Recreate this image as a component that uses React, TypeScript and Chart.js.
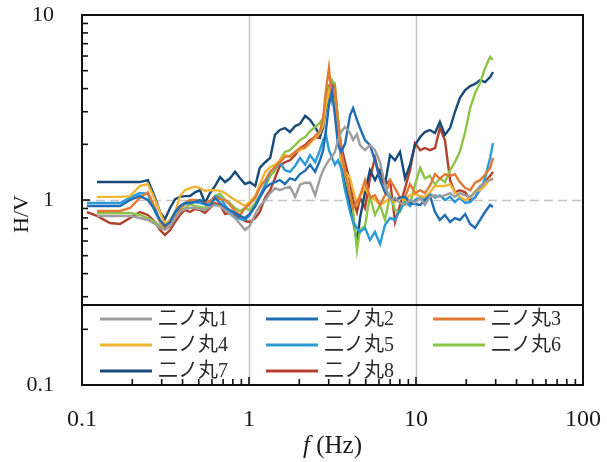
import React, { useEffect, useRef } from "react";
import { Chart, registerables } from "chart.js";
Chart.register(...registerables);

// Frequency (Hz)
const freq = [
  0.107, 0.123, 0.147, 0.169, 0.194, 0.222, 0.248, 0.274, 0.293, 0.314,
  0.337, 0.361, 0.386, 0.414, 0.443, 0.475, 0.509, 0.545, 0.584, 0.626,
  0.671, 0.719, 0.770, 0.825, 0.884, 0.947, 1.01, 1.09, 1.16, 1.25,
  1.34, 1.43, 1.53, 1.64, 1.76, 1.89, 2.02, 2.17, 2.32, 2.49,
  2.66, 2.78, 2.89, 3.01, 3.14, 3.27, 3.41, 3.56, 3.76, 4.03,
  4.20, 4.43, 4.62, 4.95, 5.30, 5.68, 6.09, 6.52, 6.99, 7.49,
  8.02, 8.60, 9.21, 9.86, 10.6, 11.3, 12.1, 13.0, 13.9, 14.9,
  16.0, 17.1, 18.3, 19.7, 21.1, 22.6, 24.2, 25.9, 27.8, 28.9,
];

// H/V ratios
const s1 = [
  null, 0.820, 0.820, 0.820, 0.820, 0.799, 0.780, 0.742, 0.706, 0.689,
  0.724, 0.799, 0.861, 0.894, 0.905, 0.905, 0.894, 0.883, 0.917, 0.940,
  0.928, 0.883, 0.840, 0.799, 0.742, 0.689, 0.724, 0.840, 0.928, 1.00,
  1.09, 1.16, 1.13, 1.16, 1.18, 1.04, 1.21, 1.24, 1.24, 1.06,
  1.31, 1.45, 1.55, 1.64, 1.71, 1.82, 2.11, 2.33, 2.48, 2.30,
  2.11, 2.27, 1.98, 1.86, 1.98, 1.86, 1.60, 1.21, 1.00, 1.03,
  0.963, 0.940, 1.00, 0.963, 1.03, 0.940, 1.04, 1.06, 1.04, 1.06,
  1.09, 1.04, 1.09, 1.06, 1.04, 1.10, 1.19, 1.25, 1.28, 1.31,
];
const s2 = [
  0.928, 0.928, 0.928, 0.928, 1.00, 1.05, 1.00, 0.883, 0.780, 0.724,
  0.761, 0.861, 0.928, 0.963, 0.963, 0.975, 1.00, 0.951, 0.928, 1.03,
  0.963, 0.905, 0.883, 0.851, 0.820, 0.799, 0.840, 0.928, 1.03, 1.16,
  1.22, 1.25, 1.28, 1.22, 1.31, 1.28, 1.38, 1.44, 1.55, 1.42,
  1.64, 1.86, 2.39, 3.26, 3.84, 2.88, 1.98, 1.82, 2.01, 2.88,
  3.14, 2.71, 2.45, 2.11, 1.98, 1.64, 1.28, 1.10, 1.03, 1.00,
  1.03, 1.04, 0.963, 0.951, 0.940, 1.00, 1.06, 0.861, 0.780, 0.830,
  0.761, 0.799, 0.780, 0.840, 0.742, 0.706, 0.780, 0.861, 0.940, 0.917,
];
const s3 = [
  null, 0.872, 0.872, 0.872, 0.905, 1.03, 1.10, 0.905, 0.761, 0.706,
  0.742, 0.799, 0.883, 0.963, 1.00, 1.00, 0.988, 0.963, 0.988, 1.04,
  1.01, 1.00, 0.940, 0.872, 0.830, 0.905, 0.951, 1.03, 1.16, 1.28,
  1.42, 1.51, 1.60, 1.71, 1.73, 1.82, 1.91, 1.93, 2.06, 2.22,
  2.36, 2.78, 3.93, 5.17, 3.47, 4.03, 2.64, 1.86, 1.42, 1.06,
  0.905, 0.975, 1.05, 1.28, 1.03, 1.06, 0.940, 1.06, 1.28, 1.16,
  1.03, 1.04, 1.22, 1.09, 1.13, 1.09, 1.19, 1.38, 1.30, 1.38,
  1.35, 1.38, 1.25, 1.16, 1.13, 1.24, 1.28, 1.37, 1.49, 1.69,
];
const s4 = [
  null, 1.04, 1.04, 1.04, 1.05, 1.19, 1.22, 1.00, 0.861, 0.742,
  0.780, 0.861, 1.05, 1.13, 1.16, 1.18, 1.16, 1.12, 1.13, 1.13,
  1.12, 1.09, 1.04, 1.00, 0.963, 0.928, 0.975, 1.05, 1.21, 1.42,
  1.51, 1.55, 1.64, 1.75, 1.71, 1.82, 1.86, 1.91, 2.03, 2.16,
  2.30, 2.54, 3.26, 3.84, 3.69, 3.47, 2.39, 1.64, 1.42, 1.31,
  1.13, 0.951, 1.05, 1.16, 1.05, 1.00, 0.940, 0.975, 1.03, 0.975,
  1.03, 1.00, 1.06, 1.08, 1.05, 1.04, 1.10, 1.19, 1.19, 1.19,
  1.22, 1.10, 1.04, 1.00, 1.03, 1.12, 1.13, 1.19, 1.31, 1.28,
];
const s5 = [
  0.963, 0.963, 0.963, 0.963, 1.03, 1.09, 1.08, 0.861, 0.761, 0.724,
  0.780, 0.840, 0.905, 0.951, 0.975, 0.975, 0.963, 0.951, 0.940, 1.05,
  1.03, 0.940, 0.861, 0.809, 0.789, 0.780, 0.830, 0.928, 1.05, 1.21,
  1.42, 1.49, 1.60, 1.45, 1.42, 1.53, 1.69, 1.55, 1.75, 1.60,
  1.86, 2.11, 2.25, 1.86, 1.69, 1.55, 1.64, 1.49, 1.13, 0.861,
  0.761, 0.706, 0.672, 0.706, 0.608, 0.672, 0.578, 0.733, 0.799, 0.780,
  0.883, 0.975, 0.928, 1.00, 1.03, 1.00, 1.08, 1.03, 1.06, 1.00,
  1.04, 0.975, 1.03, 0.963, 0.975, 1.04, 1.13, 1.31, 1.69, 2.03,
];
const s6 = [
  null, 0.850, 0.850, 0.850, 0.850, 0.830, 0.799, 0.761, 0.724, 0.706,
  0.742, 0.820, 0.872, 0.905, 0.951, 0.928, 0.917, 0.905, 0.975, 1.05,
  1.08, 1.00, 0.963, 0.905, 0.872, 0.905, 0.883, 0.963, 1.06, 1.18,
  1.35, 1.44, 1.64, 1.82, 1.86, 1.98, 2.11, 2.19, 2.36, 2.48,
  2.61, 2.78, 3.26, 4.03, 4.45, 4.18, 2.71, 1.86, 1.37, 1.06,
  0.883, 0.536, 0.689, 0.724, 1.05, 0.830, 0.940, 0.780, 1.06, 0.883,
  0.861, 1.03, 0.940, 1.21, 1.49, 1.31, 1.35, 1.21, 1.31, 1.25,
  1.45, 1.60, 1.82, 2.33, 3.14, 3.79, 4.29, 5.16, 5.93, 5.71,
];
const s7 = [
  null, 1.25, 1.25, 1.25, 1.25, 1.25, 1.28, 1.03, 0.861, 0.789,
  0.905, 1.01, 1.04, 1.05, 1.05, 1.10, 1.13, 0.963, 1.09, 1.19,
  1.33, 1.25, 1.31, 1.42, 1.31, 1.22, 1.25, 1.19, 1.49, 1.60,
  1.69, 2.25, 2.39, 2.45, 2.33, 2.51, 2.58, 2.85, 2.71, 2.48,
  2.22, 2.45, 3.14, 3.74, 3.93, 3.47, 2.39, 1.64, 1.21, 0.940,
  0.780, 0.586, 0.799, 1.10, 1.45, 1.28, 1.45, 1.21, 1.75, 1.64,
  1.82, 1.31, 1.55, 1.98, 2.19, 2.33, 2.39, 2.30, 2.64, 2.25,
  2.45, 2.99, 3.56, 3.93, 4.13, 4.24, 4.45, 4.34, 4.62, 4.92,
];
const s8 = [
  0.861, 0.820, 0.751, 0.742, 0.799, 0.861, 0.830, 0.761, 0.689, 0.647,
  0.689, 0.761, 0.830, 0.883, 0.861, 0.894, 0.883, 0.851, 0.905, 0.963,
  0.940, 0.840, 0.851, 0.830, 0.799, 0.770, 0.761, 0.799, 0.861, 1.03,
  1.13, 1.31, 1.53, 1.60, 1.64, 1.75, 1.91, 1.98, 2.11, 2.19,
  2.16, 2.71, 3.47, 4.13, 4.34, 3.93, 2.71, 1.98, 1.60, 1.25,
  1.00, 0.861, 1.03, 0.905, 1.31, 1.69, 1.31, 1.21, 1.28, 0.761,
  0.940, 1.16, 1.45, 2.03, 1.86, 1.91, 1.86, 1.91, 2.45, 2.11,
  1.28, 1.10, 1.13, 1.10, 1.00, 1.03, 1.16, 1.25, 1.35, 1.42,
];

const seriesLabels = ["二ノ丸1", "二ノ丸2", "二ノ丸3", "二ノ丸4", "二ノ丸5", "二ノ丸6", "二ノ丸7", "二ノ丸8"];
const seriesColors = ["#9d9d9d", "#1f6db4", "#e07a35", "#efb533", "#2b9ad7", "#8cc44a", "#174a78", "#b3402b"];
const xTickValues = [0.1, 1, 10, 100];
const yTickValues = [0.1, 1, 10];
const xTitleItalic = "f";
const xTitleRest = " (Hz)";
const yTitle = "H/V";

const SERIF = '"Liberation Serif", "Noto Sans CJK JP", serif';
const LEGEND_FONT = '"Liberation Serif", "Noto Sans CJK JP", serif';

const decorPlugin = {
  id: "decor",
  beforeDatasetsDraw(chart: any) {
    const { ctx, chartArea: a, scales } = chart;
    const x = scales.x;
    const y = scales.y;
    ctx.save();
    ctx.strokeStyle = "#c4c4c4";
    ctx.lineWidth = 1.5;
    for (const v of [1, 10]) {
      const px = Math.round(x.getPixelForValue(v)) + 0.5;
      ctx.beginPath();
      ctx.moveTo(px, a.top);
      ctx.lineTo(px, a.bottom);
      ctx.stroke();
    }
    ctx.setLineDash([9, 5]);
    const py = Math.round(y.getPixelForValue(1)) + 0.5;
    ctx.beginPath();
    ctx.moveTo(a.left, py);
    ctx.lineTo(a.right, py);
    ctx.stroke();
    ctx.restore();
  },
  afterDatasetsDraw(chart: any) {
    const { ctx, chartArea: a, scales } = chart;
    const x = scales.x;
    const y = scales.y;
    ctx.save();
    ctx.strokeStyle = "#111";
    ctx.lineWidth = 1.6;
    // inward ticks, left axis
    for (const d of [0.1, 1]) {
      for (let m = 1; m <= 9; m++) {
        const v = m * d;
        const py = y.getPixelForValue(v);
        const len = m === 1 ? 8 : 6;
        ctx.beginPath();
        ctx.moveTo(a.left, py);
        ctx.lineTo(a.left + len, py);
        ctx.stroke();
      }
    }
    // inward ticks, bottom axis
    for (const d of [0.1, 1, 10]) {
      for (let m = 1; m <= 9; m++) {
        const v = m * d;
        const px = x.getPixelForValue(v);
        const len = m === 1 ? 8 : 6;
        ctx.beginPath();
        ctx.moveTo(px, a.bottom);
        ctx.lineTo(px, a.bottom - len);
        ctx.stroke();
      }
    }
    // legend box
    const lgTop = a.bottom - 80;
    ctx.lineWidth = 2;
    ctx.beginPath();
    ctx.moveTo(a.left, lgTop);
    ctx.lineTo(a.right, lgTop);
    ctx.stroke();
    const datasets = chart.data.datasets;
    const colX = [a.left + 18, a.left + 184, a.left + 351];
    const rowY = [lgTop + 14, lgTop + 40, lgTop + 66];
    ctx.font = `20px ${LEGEND_FONT}`;
    ctx.textBaseline = "middle";
    ctx.textAlign = "left";
    datasets.forEach((ds: any, i: number) => {
      const cx = colX[i % 3];
      const cy = rowY[Math.floor(i / 3)];
      ctx.strokeStyle = ds.borderColor;
      ctx.lineWidth = 3;
      ctx.beginPath();
      ctx.moveTo(cx, cy);
      ctx.lineTo(cx + 52, cy);
      ctx.stroke();
      ctx.fillStyle = "#2a2a2a";
      ctx.fillText(ds.label, cx + 58, cy + 1);
    });
    // plot border
    ctx.strokeStyle = "#111";
    ctx.lineWidth = 2;
    ctx.strokeRect(a.left, a.top, a.right - a.left, a.bottom - a.top);
    // titles
    ctx.fillStyle = "#1a1a1a";
    ctx.textBaseline = "middle";
    ctx.font = `italic 25px ${SERIF}`;
    const wI = ctx.measureText(xTitleItalic).width;
    ctx.font = `25px ${SERIF}`;
    const wR = ctx.measureText(xTitleRest).width;
    const cxTitle = (a.left + a.right) / 2;
    const startX = cxTitle - (wI + wR) / 2;
    ctx.font = `italic 25px ${SERIF}`;
    ctx.textAlign = "left";
    ctx.fillText(xTitleItalic, startX, 446);
    ctx.font = `25px ${SERIF}`;
    ctx.fillText(xTitleRest, startX + wI, 446);
    ctx.save();
    ctx.translate(22, 214);
    ctx.rotate(-Math.PI / 2);
    ctx.textAlign = "center";
    ctx.font = `22px ${SERIF}`;
    ctx.fillText(yTitle, 0, 0);
    ctx.restore();
    ctx.restore();
  },
};

export default function App() {
  const ref = useRef<HTMLCanvasElement>(null);
  useEffect(() => {
    let chart: Chart | null = null;
    let cancelled = false;
    const build = () => {
      if (cancelled || !ref.current) return;
      const series = [s1, s2, s3, s4, s5, s6, s7, s8];
      const datasets = series.map((vals, i) => ({
        label: seriesLabels[i],
        data: freq.map((f, j) => ({ x: f, y: vals[j] })),
        borderColor: seriesColors[i],
        backgroundColor: seriesColors[i],
        borderWidth: 2.4,
        pointRadius: 0,
        tension: 0,
        spanGaps: false,
      }));
      chart = new Chart(ref.current as HTMLCanvasElement, {
        type: "line",
        data: { datasets } as any,
        options: {
          animation: false,
          responsive: false,
          devicePixelRatio: 1,
          layout: { padding: { top: 15, right: 24, left: 0, bottom: 0 } },
          plugins: { legend: { display: false }, tooltip: { enabled: false } },
          scales: {
            x: {
              type: "logarithmic",
              min: 0.1,
              max: 100,
              afterBuildTicks: (s: any) => {
                s.ticks = xTickValues.map((v) => ({ value: v }));
              },
              afterFit: (s: any) => {
                s.height = 77;
                s.paddingLeft = 0;
                s.paddingRight = 0;
              },
              grid: { display: false },
              border: { display: false },
              ticks: {
                autoSkip: false,
                maxRotation: 0,
                padding: 12,
                color: "#1a1a1a",
                font: { family: SERIF, size: 24 },
                callback: (v: any) => String(v),
              },
            },
            y: {
              type: "logarithmic",
              min: 0.1,
              max: 10,
              afterBuildTicks: (s: any) => {
                s.ticks = yTickValues.map((v) => ({ value: v }));
              },
              afterFit: (s: any) => {
                s.width = 82;
                s.paddingTop = 0;
                s.paddingBottom = 0;
              },
              grid: { display: false },
              border: { display: false },
              ticks: {
                autoSkip: false,
                padding: 20,
                color: "#1a1a1a",
                font: { family: SERIF, size: 22 },
                callback: (v: any) => String(v),
              },
            },
          },
        } as any,
        plugins: [decorPlugin],
      });
    };
    const fontsReady = Promise.all([
      document.fonts.load('22px "Liberation Serif"', "0.1 H/V Hz"),
      document.fonts.load('italic 25px "Liberation Serif"', "f"),
      document.fonts.load('20px "Noto Sans CJK JP"', "二ノ丸"),
    ]).catch(() => null);
    fontsReady.then(build);
    return () => {
      cancelled = true;
      if (chart) chart.destroy();
    };
  }, []);
  return (
    <div style={{ position: "fixed", left: 0, top: 0, width: 607, height: 462, background: "#fff" }}>
      <canvas ref={ref} width={607} height={462} style={{ display: "block", width: 607, height: 462 }} />
    </div>
  );
}
